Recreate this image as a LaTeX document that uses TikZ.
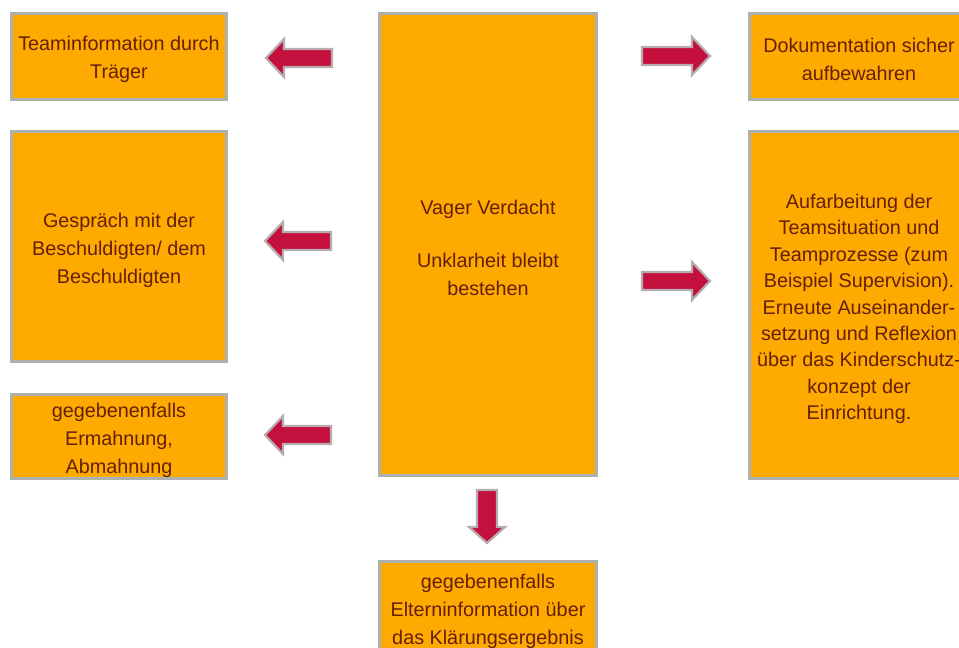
\documentclass[tikz,border=0pt]{standalone}
\usepackage{fontspec}
\setmainfont{Liberation Sans}
\definecolor{boxfill}{RGB}{255,170,0}
\definecolor{boxline}{RGB}{172,176,174}
\definecolor{txt}{RGB}{100,32,8}
\definecolor{arrfill}{RGB}{196,16,60}
\definecolor{arrline}{RGB}{182,172,176}
\tikzset{
  box/.style={draw=boxline, fill=boxfill, line width=3pt, inner sep=0pt},
  lbl/.style={inner sep=0pt, align=center, text=txt, font=\fontsize{19.8}{28}\selectfont},
  blk/.style={fill=arrfill, draw=arrline, line width=2.2pt, line join=miter}
}
\newcommand\leftblk[1]{\draw[blk] (#1) -- ++(18,-19) -- ++(0,10) -- ++(48,0) -- ++(0,18) -- ++(-48,0) -- ++(0,10) -- cycle;}
\newcommand\rightblk[1]{\draw[blk] (#1) -- ++(-18,-19) -- ++(0,10) -- ++(-50,0) -- ++(0,18) -- ++(50,0) -- ++(0,10) -- cycle;}
\newcommand\downblk[1]{\draw[blk] (#1) -- ++(-18,-16) -- ++(8,0) -- ++(0,-37) -- ++(20,0) -- ++(0,37) -- ++(8,0) -- cycle;}
\begin{document}
\begin{tikzpicture}[x=1pt,y=-1pt]
\useasboundingbox (0,0) rectangle (959,648);
\clip (0,0) rectangle (959,648);
% boxes
\node[box, minimum width=215, minimum height=86] (tl) at (119,56.5) {};
\node[box, minimum width=215, minimum height=230] (lm) at (119,246.5) {};
\node[box, minimum width=215, minimum height=84] (lb) at (119,436.5) {};
\node[box, minimum width=217, minimum height=462] (c) at (488,244.5) {};
\node[box, minimum width=217, minimum height=97] (b) at (488,610) {};
\node[box, minimum width=219, minimum height=86] (tr) at (859,56.5) {};
\node[box, minimum width=219, minimum height=347] (rm) at (859,305) {};
% texts
\node[lbl, yshift=-2.5pt] (tlt) at (tl.center) {Teaminformation durch\\Träger};
\node[lbl, yshift=-4pt] (lmt) at (lm.center) {Gespräch mit der\\Beschuldigten/ dem\\Beschuldigten};
\node[lbl, yshift=-4pt] (lbt) at (lb.center) {gegebenenfalls\\Ermahnung,\\Abmahnung};
\node[lbl, yshift=-3pt] (ct) at (c.center) {Vager Verdacht\\[25pt]Unklarheit bleibt\\bestehen};
\node[lbl, yshift=-1pt] (bt) at (b.center) {gegebenenfalls\\Elterninformation über\\das Klärungsergebnis};
\node[lbl, yshift=-2.5pt] (trt) at (tr.center) {Dokumentation sicher\\aufbewahren};
\node[lbl, yshift=-4pt, font=\fontsize{19.8}{26.4}\selectfont] (rmt) at (rm.center) {Aufarbeitung der\\Teamsituation und\\Teamprozesse (zum\\Beispiel Supervision).\\Erneute Auseinander-\\setzung und Reflexion\\über das Kinderschutz-\\konzept der\\Einrichtung.};
% arrows
\coordinate (a1) at (266,58);
\coordinate (a2) at (265,241);
\coordinate (a3) at (265,435);
\coordinate (a4) at (710,56);
\coordinate (a5) at (710,281);
\coordinate (a6) at (487,543);
\leftblk{a1}
\leftblk{a2}
\leftblk{a3}
\rightblk{a4}
\rightblk{a5}
\downblk{a6}
\end{tikzpicture}
\end{document}
